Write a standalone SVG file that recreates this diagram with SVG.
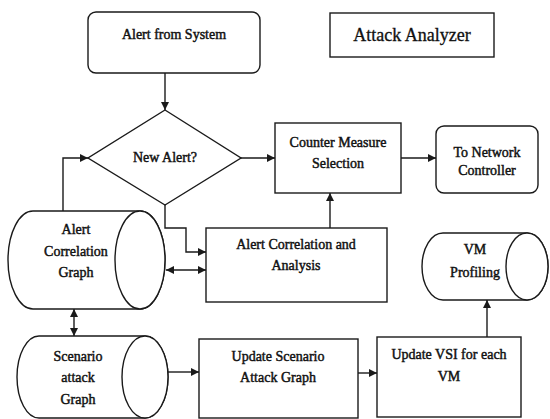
<svg xmlns="http://www.w3.org/2000/svg" width="550" height="419" viewBox="0 0 550 419">
  <style>
    .shape { fill: #ffffff; stroke: #1a1a1a; stroke-width: 1.4; }
    .line { fill: none; stroke: #1a1a1a; stroke-width: 1.4; }
    .label { font-size: 14px; fill: #111; stroke: #111; stroke-width: 0.45; text-anchor: middle; }
    .title { font-size: 18px; fill: #111; stroke: #111; stroke-width: 0.3; text-anchor: middle; }
  </style>
  <defs>
    <marker id="arrow" viewBox="0 0 10 10" refX="10" refY="5" markerWidth="8" markerHeight="8" markerUnits="userSpaceOnUse" orient="auto-start-reverse">
      <path d="M0,0 L10,5 L0,10 Z" fill="#1a1a1a"/>
    </marker>
  </defs>
  <rect width="550" height="419" fill="#ffffff"/>

  <!-- connectors -->
  <g id="connectors">
    <line class="line" x1="165" y1="73" x2="165" y2="110" marker-end="url(#arrow)"/>
    <line class="line" x1="241" y1="158" x2="275" y2="158" marker-end="url(#arrow)"/>
    <polyline class="line" points="63,211 63,158 88,158" marker-end="url(#arrow)"/>
    <line class="line" x1="401" y1="158" x2="436" y2="158" marker-end="url(#arrow)"/>
    <line class="line" x1="330" y1="228" x2="330" y2="193" marker-end="url(#arrow)"/>
    <polyline class="line" points="165,205 165,228 186,228 186,252 206,252" marker-end="url(#arrow)"/>
    <line class="line" x1="166" y1="270" x2="206" y2="270" marker-start="url(#arrow)" marker-end="url(#arrow)"/>
    <line class="line" x1="74" y1="309" x2="74" y2="336" marker-start="url(#arrow)" marker-end="url(#arrow)"/>
    <line class="line" x1="168" y1="372" x2="199" y2="372" marker-end="url(#arrow)"/>
    <line class="line" x1="358" y1="373" x2="377" y2="373" marker-end="url(#arrow)"/>
    <line class="line" x1="487" y1="337" x2="487" y2="300" marker-end="url(#arrow)"/>
  </g>

  <g id="nodes" font-family="Liberation Serif, Times New Roman, serif">
  <g id="alert-from-system">
    <rect class="shape" x="88" y="12" width="172" height="61" rx="8"/>
    <text class="label" x="174" y="39">Alert from System</text>
  </g>

  <g id="attack-analyzer">
    <rect class="shape" x="330" y="13" width="164" height="44"/>
    <text class="title" x="412" y="41">Attack Analyzer</text>
  </g>

  <g id="new-alert">
    <polygon class="shape" points="165,110 241,158 165,205 88,158"/>
    <text class="label" x="165" y="162">New Alert?</text>
  </g>

  <g id="counter-measure">
    <rect class="shape" x="275" y="123" width="126" height="70"/>
    <text class="label" x="338" y="147">Counter Measure</text>
    <text class="label" x="338" y="168">Selection</text>
  </g>

  <g id="network-controller">
    <rect class="shape" x="436" y="126" width="102" height="67" rx="8"/>
    <text class="label" x="487" y="157">To Network</text>
    <text class="label" x="487" y="175">Controller</text>
  </g>

  <g id="alert-correlation-graph">
    <path class="shape" d="M33,211 L140,211 A25,49 0 0 1 140,309 L33,309 A25,49 0 0 1 33,211 Z"/>
    <ellipse class="shape" cx="140" cy="260" rx="25" ry="49"/>
    <text class="label" x="76" y="234">Alert</text>
    <text class="label" x="76" y="256">Correlation</text>
    <text class="label" x="76" y="277">Graph</text>
  </g>

  <g id="alert-correlation-analysis">
    <rect class="shape" x="206" y="228" width="181" height="74"/>
    <text class="label" x="296" y="249">Alert Correlation and</text>
    <text class="label" x="296" y="270">Analysis</text>
  </g>

  <g id="vm-profiling">
    <path class="shape" d="M443,233 L527,233 A21,33.5 0 0 1 527,300 L443,300 A21,33.5 0 0 1 443,233 Z"/>
    <ellipse class="shape" cx="527" cy="266.5" rx="21" ry="33.5"/>
    <text class="label" x="475" y="254">VM</text>
    <text class="label" x="475" y="277">Profiling</text>
  </g>

  <g id="scenario-attack-graph">
    <path class="shape" d="M39,336 L145,336 A23,41 0 0 1 145,418 L39,418 A22,41 0 0 1 39,336 Z"/>
    <ellipse class="shape" cx="145" cy="377" rx="23" ry="41"/>
    <text class="label" x="78" y="361">Scenario</text>
    <text class="label" x="78" y="382">attack</text>
    <text class="label" x="78" y="404">Graph</text>
  </g>

  <g id="update-scenario">
    <rect class="shape" x="199" y="339" width="159" height="79"/>
    <text class="label" x="278" y="361">Update Scenario</text>
    <text class="label" x="278" y="382">Attack Graph</text>
  </g>

  <g id="update-vsi">
    <rect class="shape" x="377" y="337" width="144" height="80"/>
    <text class="label" x="449" y="359">Update VSI for each</text>
    <text class="label" x="449" y="381">VM</text>
  </g>
  </g>
</svg>
